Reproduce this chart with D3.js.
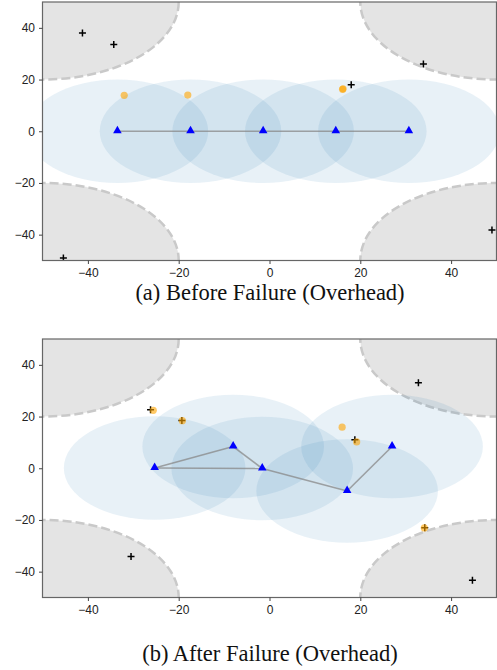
<!DOCTYPE html>
<html>
<head>
<meta charset="utf-8">
<script src="https://cdn.jsdelivr.net/npm/d3@7"></script>
<style>
  body { margin: 0; background: #fff; }
  svg { display: block; }
  .tick text { font-family: "Liberation Sans", Arial, sans-serif; font-size: 12px; fill: #222; }
  .caption { font-family: "Liberation Serif", "Times New Roman", serif; font-size: 22.5px; fill: #111; }
</style>
</head>
<body>
<div id="chart"></div>
<script>
// obstacle zones (corner circles), radius in data units
var zones = [[-50, 50], [50, 50], [-50, -50], [50, -50]];
var zoneRadius = 30;
var commRadius = 20;
var xTicks = [-40, -20, 0, 20, 40];
var yTicks = [-40, -20, 0, 20, 40];

// (a) before failure
var nodesA = [[-33.5, 0], [-17.4, 0], [-1.4, 0], [14.6, 0], [30.7, 0]];
var linksA = [[0, 1], [1, 2], [2, 3], [3, 4]];
var targetsA = [[-32.0, 13.9], [-18.0, 14.0], [16.1, 16.2], [16.2, 16.4]];
var crossesA = [[-41.2, 38.0], [-34.3, 33.6], [-45.4, -49.0], [18.0, 18.0], [33.9, 26.0], [49.0, -38.2]];

// (b) after failure
var nodesB = [[-25.3, 0.1], [-8.0, 8.4], [-1.6, -0.1], [17.1, -8.8], [27.0, 8.4]];
var linksB = [[0, 1], [0, 2], [1, 2], [2, 3], [3, 4]];
var targetsB = [[-25.6, 22.4], [-19.2, 18.4], [16.0, 15.9], [19.2, 10.2], [34.1, -23.1]];
var crossesB = [[-26.2, 22.6], [-19.3, 18.5], [18.8, 11.0], [34.2, -23.0], [-30.5, -34.1], [32.8, 33.1], [44.7, -43.3]];

var panels = [
  { id: "a", top: 2, bottom: 260.5, caption: "(a) Before Failure (Overhead)", capY: 300,
    nodes: nodesA, links: linksA, targets: targetsA, crosses: crossesA },
  { id: "b", top: 339, bottom: 597.5, caption: "(b) After Failure (Overhead)", capY: 661,
    nodes: nodesB, links: linksB, targets: targetsB, crosses: crossesB }
];

var W = 497, H = 670;
var left = 42.5, right = 496.5;

var svg = d3.select("#chart").append("svg")
  .attr("width", W)
  .attr("height", H);

var x = d3.scaleLinear().domain([-50, 50]).range([left, right]);

panels.forEach(function(p) {
  var y = d3.scaleLinear().domain([-50, 50]).range([p.bottom, p.top]);
  var sx = function(r) { return Math.abs(x(r) - x(0)); };
  var sy = function(r) { return Math.abs(y(r) - y(0)); };

  svg.append("clipPath").attr("id", "clip-" + p.id)
    .append("rect")
      .attr("x", left).attr("y", p.top)
      .attr("width", right - left).attr("height", p.bottom - p.top);

  var g = svg.append("g").attr("clip-path", "url(#clip-" + p.id + ")");

  g.selectAll(".zone").data(zones).enter().append("ellipse")
    .attr("cx", function(d) { return x(d[0]); })
    .attr("cy", function(d) { return y(d[1]); })
    .attr("rx", sx(zoneRadius))
    .attr("ry", sy(zoneRadius))
    .attr("fill", "#e4e4e4")
    .attr("stroke", "#c9c9c9")
    .attr("stroke-width", 2.5)
    .attr("stroke-dasharray", "9,4");

  g.selectAll(".range").data(p.nodes).enter().append("ellipse")
    .attr("cx", function(d) { return x(d[0]); })
    .attr("cy", function(d) { return y(d[1]); })
    .attr("rx", sx(commRadius))
    .attr("ry", sy(commRadius))
    .attr("fill", "#1f77b4")
    .attr("fill-opacity", 0.1);

  g.selectAll(".link").data(p.links).enter().append("line")
    .attr("x1", function(d) { return x(p.nodes[d[0]][0]); })
    .attr("y1", function(d) { return y(p.nodes[d[0]][1]); })
    .attr("x2", function(d) { return x(p.nodes[d[1]][0]); })
    .attr("y2", function(d) { return y(p.nodes[d[1]][1]); })
    .attr("stroke", "#888")
    .attr("stroke-opacity", 0.75)
    .attr("stroke-width", 1.6);

  g.selectAll(".cross").data(p.crosses).enter().append("path")
    .attr("d", function(d) {
      var cx = x(d[0]), cy = y(d[1]), r = 3.5;
      return "M" + (cx - r) + "," + cy + "H" + (cx + r) + "M" + cx + "," + (cy - r) + "V" + (cy + r);
    })
    .attr("stroke", "#000")
    .attr("stroke-width", 1.5);

  g.selectAll(".target").data(p.targets).enter().append("circle")
    .attr("cx", function(d) { return x(d[0]); })
    .attr("cy", function(d) { return y(d[1]); })
    .attr("r", 3.6)
    .attr("fill", "orange")
    .attr("fill-opacity", 0.6);

  g.selectAll(".node").data(p.nodes).enter().append("path")
    .attr("transform", function(d) { return "translate(" + x(d[0]) + "," + (y(d[1]) - 0.5) + ")"; })
    .attr("d", d3.symbol().type(d3.symbolTriangle).size(32))
    .attr("fill", "#0000ff");

  // frame
  svg.append("rect")
    .attr("x", left).attr("y", p.top)
    .attr("width", right - left).attr("height", p.bottom - p.top)
    .attr("fill", "none")
    .attr("stroke", "#666")
    .attr("stroke-width", 1.2);

  var xAxis = svg.append("g")
    .attr("transform", "translate(0," + p.bottom + ")")
    .call(d3.axisBottom(x).tickValues(xTicks).tickSize(3.5).tickPadding(4));
  var yAxis = svg.append("g")
    .attr("transform", "translate(" + left + ",0)")
    .call(d3.axisLeft(y).tickValues(yTicks).tickSize(3.5).tickPadding(4));

  [xAxis, yAxis].forEach(function(a) {
    a.select(".domain").remove();
    a.selectAll(".tick line").attr("stroke", "#444");
  });

  svg.append("text")
    .attr("class", "caption")
    .attr("x", 270)
    .attr("y", p.capY)
    .attr("text-anchor", "middle")
    .text(p.caption);
});
</script>
</body>
</html>
